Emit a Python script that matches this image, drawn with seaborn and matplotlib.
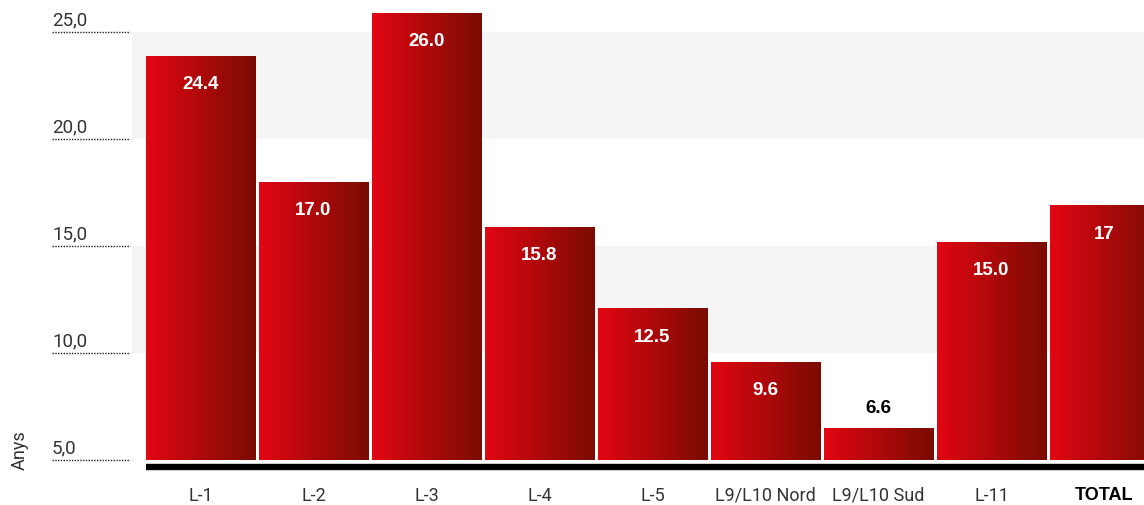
import matplotlib
matplotlib.use("Agg")
import matplotlib.pyplot as plt
import matplotlib.transforms as mtransforms
from matplotlib.colors import LinearSegmentedColormap
import seaborn as sns
import pandas as pd
import numpy as np

# ---- data ----
lines = ["L-1", "L-2", "L-3", "L-4", "L-5", "L9/L10 Nord", "L9/L10 Sud", "L-11", "TOTAL"]
# bar tops as they sit on the y axis
heights = [23.9, 18.0, 25.9, 15.9, 12.1, 9.6, 6.5, 15.2, 16.9]
# numbers printed on the bars
value_labels = ["24.4", "17.0", "26.0", "15.8", "12.5", "9.6", "6.6", "15.0", "17"]
y_ticks = [5, 10, 15, 20, 25]
y_tick_labels = ["5,0", "10,0", "15,0", "20,0", "25,0"]
bands = [(10, 15), (20, 25)]
baseline = 5.0

df = pd.DataFrame({"Linia": lines, "Anys": heights})

sns.set_theme(style="white")
plt.rcParams["font.family"] = ["Roboto", "DejaVu Sans"]

W, H = 1144, 506
fig = plt.figure(figsize=(W / 100, H / 100), dpi=100)
# axes: left edge at px 132, top at px 0, bottom at px 480
ax = fig.add_axes([132 / W, (H - 480) / H, 1 - 132 / W, 480 / H])

px_per_unit = 21.4
ymax = 25 + 33 / px_per_unit
ymin = 25 - (480 - 33) / px_per_unit

cmap = LinearSegmentedColormap.from_list("redgrad", ["#e20613", "#7a0c02"])

sns.barplot(data=df, x="Linia", y="Anys", ax=ax, width=0.965, color="#c00", zorder=3)

grad = np.linspace(0, 1, 256).reshape(1, -1)
for p in ax.patches:
    top = p.get_height()
    p.set_y(baseline)
    p.set_height(top - baseline)
    p.set_facecolor("none")
    p.set_edgecolor("none")
    x0 = p.get_x()
    x1 = x0 + p.get_width()
    im = ax.imshow(grad, extent=[x0, x1, baseline, top], aspect="auto",
                   cmap=cmap, zorder=3, interpolation="bicubic")
    im.set_clip_path(p)

ax.set_xlim(-0.606, 8.35)
ax.set_ylim(ymin, ymax)

# light gray bands
for lo, hi in bands:
    ax.axhspan(lo, hi, color="#f5f5f5", zorder=0, lw=0)

# thick black base line
x_start = ax.patches[0].get_x()
ax.plot([x_start, 8.6], [baseline - 6.5 / px_per_unit] * 2, color="black",
        lw=4.6, solid_capstyle="butt", zorder=4, clip_on=False)
ax.plot([x_start, 8.6], [baseline - 10 / px_per_unit] * 2, color="#cccccc",
        lw=0.8, solid_capstyle="butt", zorder=4, clip_on=False)

# value labels
bold_font = ["Liberation Sans", "DejaVu Sans"]
for p, lab in zip(ax.patches, value_labels):
    cx = p.get_x() + p.get_width() / 2
    top = p.get_y() + p.get_height()
    if top - baseline < 2.5:
        ax.text(cx, top + 20 / px_per_unit, lab, ha="center", va="center",
                color="black", fontsize=13.5, fontweight="bold", zorder=5,
                family=bold_font)
    else:
        ax.text(cx, top - 28 / px_per_unit, lab, ha="center", va="center",
                color="white", fontsize=13.5, fontweight="bold", zorder=5,
                family=bold_font)

# y ticks drawn as dotted stubs left of the plot
trans = mtransforms.blended_transform_factory(ax.transAxes, ax.transData)
for v, lab in zip(y_ticks, y_tick_labels):
    ax.plot([(52 - 132) / (W - 132), (130 - 132) / (W - 132)], [v, v], transform=trans,
            color="#222222", lw=1.0, ls=(0, (1, 1)), clip_on=False)
    ax.text((52 - 132) / (W - 132), v + 13 / px_per_unit, lab, transform=trans,
            ha="left", va="center", fontsize=13.5, color="#333333")

ax.set_yticks([])
ax.set_ylabel("")
ax.set_xlabel("")
fig.text(20 / W, 1 - 450 / H, "Anys", rotation=90, ha="center", va="center",
         fontsize=13, color="#333333")

ax.tick_params(axis="x", length=0, pad=5, labelsize=13, labelcolor="#333333")
for t in ax.get_xticklabels():
    if t.get_text() == "TOTAL":
        t.set_fontweight("bold")
        t.set_color("black")
        t.set_family(bold_font)

for s in ax.spines.values():
    s.set_visible(False)

fig.savefig("out.png", dpi=100)
